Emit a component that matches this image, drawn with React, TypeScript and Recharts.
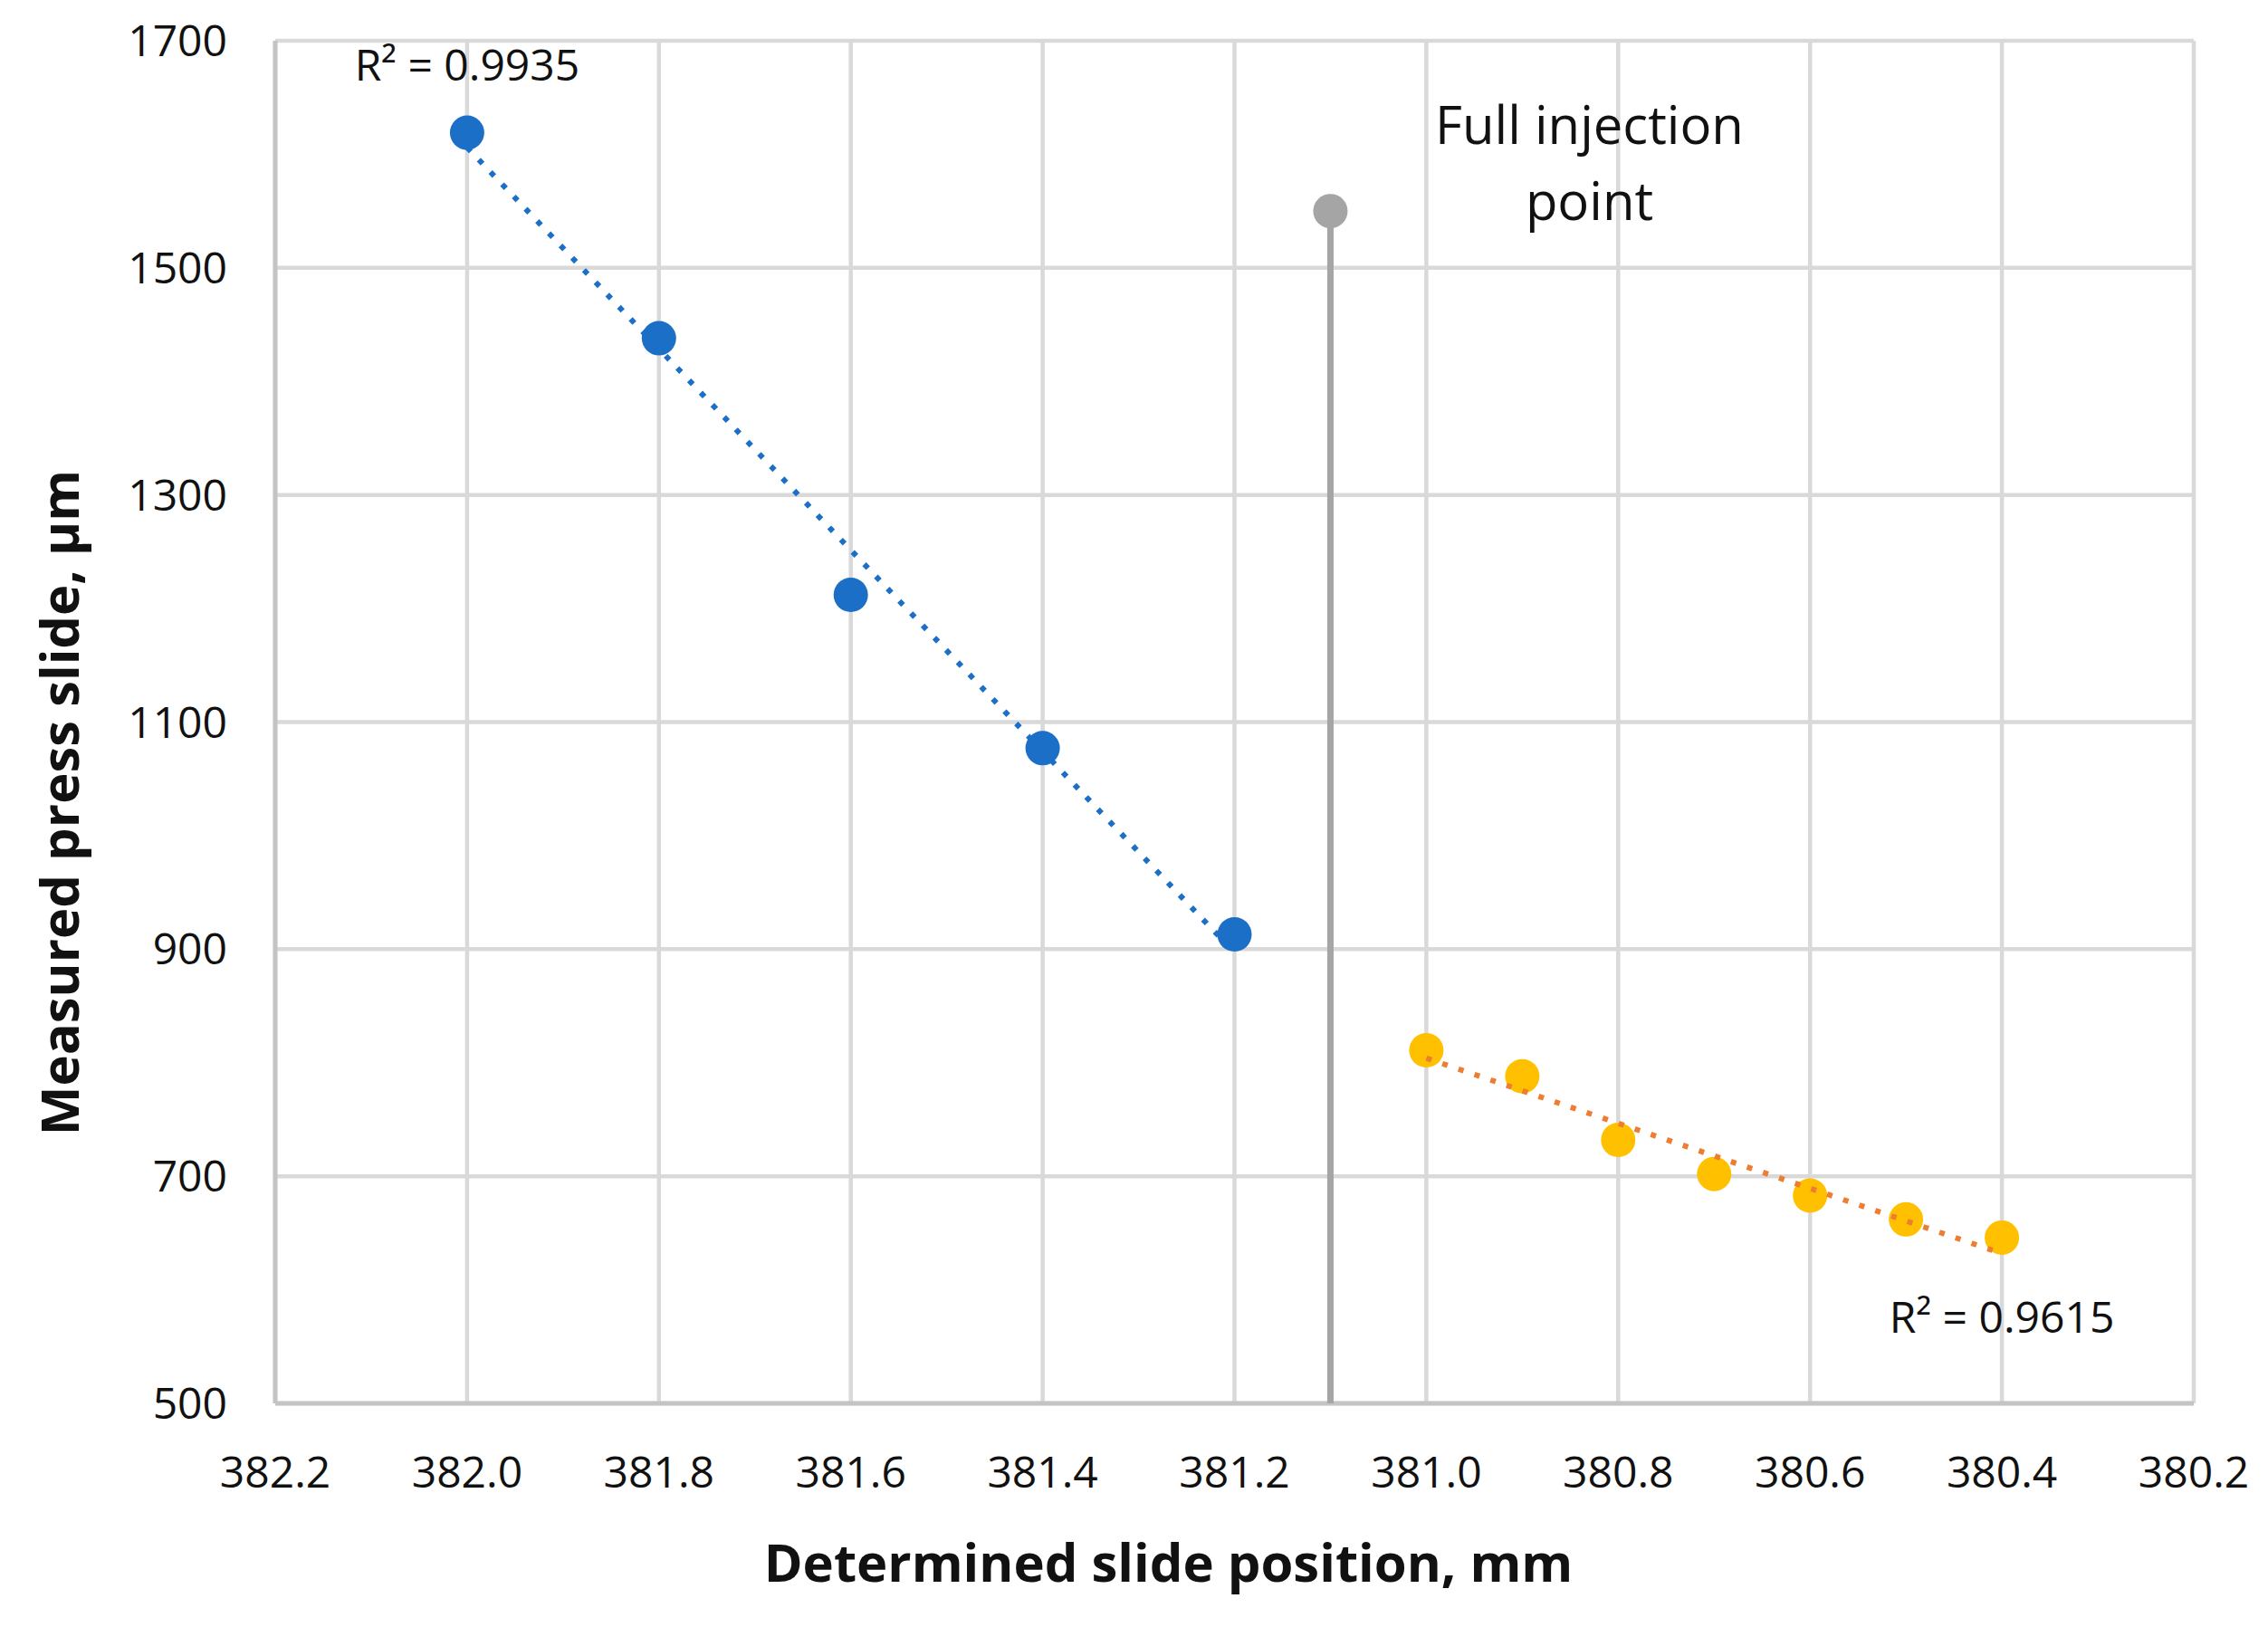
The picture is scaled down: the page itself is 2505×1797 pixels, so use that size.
import { ScatterChart, Scatter, XAxis, YAxis, CartesianGrid, ReferenceDot } from 'recharts'

// axis ticks
const xTicks = [382.2, 382.0, 381.8, 381.6, 381.4, 381.2, 381.0, 380.8, 380.6, 380.4, 380.2]
const yTicks = [500, 700, 900, 1100, 1300, 1500, 1700]

// measured points before / after the full injection point
const beforeInjection = [
  { x: 382.0, y: 1619 },
  { x: 381.8, y: 1438 },
  { x: 381.6, y: 1212 },
  { x: 381.4, y: 1077 },
  { x: 381.2, y: 913 },
]
const afterInjection = [
  { x: 381.0, y: 811 },
  { x: 380.9, y: 788 },
  { x: 380.8, y: 732 },
  { x: 380.7, y: 702 },
  { x: 380.6, y: 683 },
  { x: 380.5, y: 662 },
  { x: 380.4, y: 646 },
]
const injectionPoint = [{ x: 381.1, y: 1550 }]
const injectionLine = [
  { x: 381.1, y: 500 },
  { x: 381.1, y: 1550 },
]

// linear trendlines, end points
const blueTrend = [
  { x: 382.0, y: 1606 },
  { x: 381.2, y: 897 },
]
const orangeTrend = [
  { x: 381.0, y: 804 },
  { x: 380.4, y: 632 },
]

// text notes (baseline anchors)
const notes = [
  { x: 382.0, y: 1665, text: 'R² = 0.9935', size: 48 },
  { x: 380.4, y: 562, text: 'R² = 0.9615', size: 48 },
  { x: 380.83, y: 1609, text: 'Full injection', size: 58 },
  { x: 380.83, y: 1542, text: 'point', size: 58 },
]

const FONT = 'Open Sans'
const BLUE = '#1c6fc6'
const YELLOW = '#ffc000'
const ORANGE = '#ed7d31'
const GRAY = '#a5a5a5'

const dot = (color: string) => (p: any) => <circle cx={p.cx} cy={p.cy} r={19} fill={color} />
const nothing = () => <g />

const XTitle = ({ viewBox }: any) => (
  <text
    x={viewBox.x + viewBox.width / 2 - 73}
    y={viewBox.y + 197}
    textAnchor="middle"
    fontFamily={FONT}
    fontWeight="bold"
    fontSize={58}
    fill="#111"
  >
    Determined slide position, mm
  </text>
)

const YTitle = ({ viewBox }: any) => {
  const cx = 87
  const cy = viewBox.y + viewBox.height / 2 + 89
  return (
    <text
      x={cx}
      y={cy}
      transform={`rotate(-90, ${cx}, ${cy})`}
      textAnchor="middle"
      fontFamily={FONT}
      fontWeight="bold"
      fontSize={58}
      fill="#111"
    >
      Measured press slide, µm
    </text>
  )
}

export default function App() {
  const tickStyle = { fontSize: 48, fontFamily: FONT, fill: '#111' }
  return (
    <div style={{ position: 'absolute', left: 0, top: 0, background: '#fff' }}>
      <ScatterChart width={2505} height={1797} margin={{ top: 45, right: 82, left: 0, bottom: 0 }}>
        <CartesianGrid stroke="#d9d9d9" strokeWidth={4.5} />
        <XAxis
          type="number"
          dataKey="x"
          domain={[380.2, 382.2]}
          ticks={xTicks}
          reversed
          height={247}
          tickSize={0}
          tickMargin={59}
          tick={tickStyle}
          tickFormatter={(v: number) => v.toFixed(1)}
          axisLine={{ stroke: '#c4c4c4', strokeWidth: 5 }}
          label={<XTitle />}
        />
        <YAxis
          type="number"
          dataKey="y"
          domain={[500, 1700]}
          ticks={yTicks}
          width={304}
          tickSize={0}
          tickMargin={53}
          tick={tickStyle}
          axisLine={{ stroke: '#c4c4c4', strokeWidth: 5 }}
          label={<YTitle />}
        />
        <Scatter
          data={injectionLine}
          shape={nothing}
          line={{ stroke: GRAY, strokeWidth: 7 }}
          isAnimationActive={false}
        />
        <Scatter data={injectionPoint} shape={dot(GRAY)} isAnimationActive={false} />
        <Scatter data={beforeInjection} shape={dot(BLUE)} isAnimationActive={false} />
        <Scatter data={afterInjection} shape={dot(YELLOW)} isAnimationActive={false} />
        <Scatter
          data={blueTrend}
          shape={nothing}
          line={{ stroke: BLUE, strokeWidth: 6, strokeDasharray: '6 12.7' }}
          isAnimationActive={false}
        />
        <Scatter
          data={orangeTrend}
          shape={nothing}
          line={{ stroke: ORANGE, strokeWidth: 6, strokeDasharray: '6 12.7' }}
          isAnimationActive={false}
        />
        {notes.map((n) => (
          <ReferenceDot
            key={n.text}
            x={n.x}
            y={n.y}
            shape={(p: any) => (
              <text x={p.cx} y={p.cy} textAnchor="middle" fontFamily={FONT} fontSize={n.size} fill="#111">
                {n.text}
              </text>
            )}
          />
        ))}
      </ScatterChart>
    </div>
  )
}
